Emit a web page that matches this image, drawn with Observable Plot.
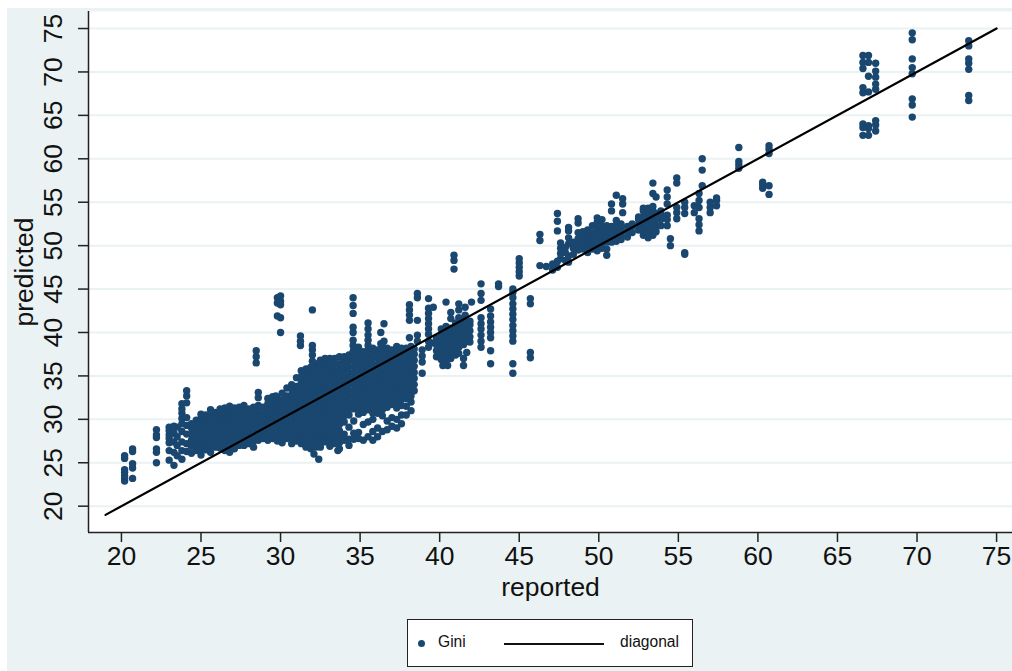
<!DOCTYPE html>
<html><head><meta charset="utf-8">
<script src="https://cdn.jsdelivr.net/npm/d3@7"></script>
<script src="https://cdn.jsdelivr.net/npm/@observablehq/plot@0.6"></script>
<style>
html,body{margin:0;padding:0;background:#fff;width:1012px;height:671px;overflow:hidden;font-family:"Liberation Sans",Arial,sans-serif;color:#111}
#bg{position:absolute;left:7px;top:8px;width:1005px;height:663px;background:#EAF2F3}
#chart{position:absolute;left:0;top:0}
#legend{position:absolute;left:407px;top:619px;width:284px;height:46px;background:#fff;border:1.5px solid #222}
#legend .dot{position:absolute;left:10px;top:20px;width:7px;height:7px;border-radius:50%;background:#1a476f}
#legend .ln{position:absolute;left:96px;top:23px;width:100px;height:2px;background:#111}
#legend .t{position:absolute;top:13px;font-size:15.6px;line-height:18px}
</style></head><body>
<div id="bg"></div><div id="chart"></div>
<div id="legend"><span class="dot"></span><span class="t" style="left:30px">Gini</span><span class="ln"></span><span class="t" style="left:212px">diagonal</span></div>
<script>
const xTicks=[20,25,30,35,40,45,50,55,60,65,70,75];
const yTicks=[20,25,30,35,40,45,50,55,60,65,70,75];
const diagonal=[19,75];

// lower tail
const lowReported=[20.2,20.7,22.2,23,23.3,23.5,23.8,24.1];
const lowPredicted=[[22.9,23.2,23.5,23.9,24.2,25.5,25.8],[23.2,24.4,24.9,26.3,26.6],[25,26.2,26.6,27.9,28.2,28.8],[25.3,26.4,27.3,27.8,28.2,28.7,29.1],[24.7,26.2,27.4,28.4,29.2],[25.8,27,28,29.1],[25.4,26.4,27.4,28.6,29.5,30.1,30.7,31.2,31.8],[26.3,27.2,28.3,29.3,30.2,31.9,32.7,33.3]];

// dense cloud, columns of reported values
const cloudReported=[24.4,24.7,25,25.3,25.6,25.9,26.2,26.5,26.8,27.1,27.4,27.7,28,28.3,28.6,28.9,29.2,29.5,29.8,30.1,30.4,30.7,31,31.3,31.6,31.9,32.2,32.5,32.8,33.1,33.4,33.7,34,34.3,34.6,34.9,35.2,35.5,35.8,36.1,36.4,36.7,37,37.3,37.6,37.9,38.2,38.4];
const cloudPredicted=[
[26.1,26.9,27.6,28.3,29,29.5],
[26.4,27.1,27.8,28.5,29.2,29.9],
[25.9,26.6,27.3,28,28.7,29.4,30.1,30.6],
[26.5,27.2,27.9,28.6,29.3,30,30.5],
[26.2,26.9,27.6,28.3,29,29.7,30.4,31.1],
[26.8,27.5,28.2,28.9,29.6,30.3,30.8],
[26.7,27.2,27.9,28.6,29.3,30,30.7,31.2],
[26.4,27.1,27.8,28.5,29.2,29.9,30.6,31.3],
[26.2,26.9,27.6,28.3,29,29.7,30.4,31.1,31.5],
[26.6,27.3,28,28.7,29.4,30.1,30.8,31.3],
[27,27.7,28.4,29.1,29.8,30.5,31.1,31.4],
[27,27.4,28.1,28.8,29.5,30.2,30.9,31.6],
[27.2,27.9,28.6,29.3,30,30.7,31.2],
[26.8,27.5,28.2,28.9,29.6,30.3,31,31.4],
[27.6,28.3,29,29.7,30.4,31.1,31.6,32.5,33.1],
[27.8,28.5,29.2,29.9,30.6,31.4],
[27.6,28.3,29,29.7,30.4,31.1,31.8,32.4],
[27.8,28.5,29.2,29.9,30.6,31.3,32,32.6],
[27.5,28.2,28.9,29.6,30.3,31,31.7,32.4],
[27.3,28,28.7,29.4,30.1,30.8,31.5,32.2,33],
[27.8,28.5,29.2,29.9,30.6,31.3,32,32.7,33.6],
[27.2,27.9,28.6,29.3,30,30.7,31.4,32.1,32.8,33.5,34],
[27.5,28.2,28.9,29.6,30.3,31,31.7,32.4,33.1,33.8,34.8],
[27.2,27.9,28.6,29.3,30,30.7,31.4,32.1,32.8,33.5,34.2,34.9,35.6],
[26.8,27.5,28.2,28.9,29.6,30.3,31,31.7,32.4,33.1,33.8,34.5,35.2,35.8],
[26.6,27.3,28,28.7,29.4,30.1,30.8,31.5,32.2,32.9,33.6,34.3,35,35.7,36],
[26.8,27.5,28.2,28.9,29.6,30.3,31,31.7,32.4,33.1,33.8,34.5,35.2,35.9,36.4],
[26.8,27.2,27.9,28.6,29.3,30,30.7,31.4,32.1,32.8,33.5,34.2,34.9,35.6,36.3,36.8],
[27.4,28.1,28.8,29.5,30.2,30.9,31.6,32.3,33,33.7,34.4,35.1,35.8,36.5,37],
[26.9,27.6,28.3,29,29.7,30.4,31.1,31.8,32.5,33.2,33.9,34.6,35.3,36,36.7,37],
[27.2,27.9,28.6,29.3,30,30.7,31.4,32.1,32.8,33.5,34.2,34.9,35.6,36.3,37],
[26.6,27.3,28,28.7,29.4,30.1,30.8,31.5,32.2,32.9,33.6,34.3,35,35.7,36.4,37.2],
[27.6,28.3,29.7,30.4,31.1,31.8,32.5,33.2,33.9,34.6,35.3,36,36.7,37.2],
[27,27.7,29.1,30.5,31.2,31.9,32.6,33.3,34,34.7,35.4,36.1,36.8,37.4],
[27.7,28.4,29.8,31.2,31.9,32.6,33.3,34,34.7,35.4,36.1,36.8,37.5,38],
[27.8,28.5,30.6,31.3,32,32.7,33.4,34.1,34.8,35.5,36.2,36.9,37.6,38.3],
[27.6,29.4,30.8,31.5,32.2,32.9,33.6,34.3,35,35.7,36.4,37.1,37.8],
[28,29.7,31.1,31.8,32.5,33.2,33.9,34.6,35.3,36,36.7,37.4,38],
[27.6,28.6,30,30.7,31.4,32.1,32.8,33.5,34.2,34.9,35.6,36.3,37,37.7,38.2],
[28,29,30.7,31.4,32.1,32.8,33.5,34.2,34.9,35.6,36.3,37,37.7,38],
[28.6,30.4,31.1,31.8,32.5,33.2,33.9,34.6,35.3,36,36.7,37.4,38.1,38.4],
[28.8,29.8,31.4,32.1,32.8,33.5,34.2,34.9,35.6,36.3,37,37.7,38.2],
[29.2,30.2,31.7,32.4,33.1,33.8,34.5,35.2,35.9,36.6,37.3,38],
[29,30,31.3,32,32.7,33.4,34.1,34.8,35.5,36.2,36.9,37.6,38.4],
[29.5,30.5,31.6,32.3,33,33.7,34.4,35.1,35.8,36.5,37.2,37.9,38.2],
[30.5,31.5,32.4,33.1,33.8,34.5,35.2,35.9,36.6,37.3,38,38.2],
[31,32,32.7,33.4,34.1,34.8,35.5,36.2,36.9,37.6,38.4],
[33.3,34,34.7,35.4,36.1,36.8,37.5,38.1]];

// points standing apart from the cloud
const outlierReported=[28.47,29.7,29.8,30,31.25,32,32.1,32.4,33.6,34.56,35.5,36.3,36.5,38.1,38.6,38.9];
const outlierPredicted=[[36.5,37.2,37.9],[32.7],[43.4,44,41.9],[40,41.7,43.2,43.6,44.2],[38.5,39,39.6],[36,36.7,37.4,38,38.5,42.6],[26],[25.4],[26.4],[37.1,37.8,38.5,39.1,40,40.6,42.2,43.1,44],[38.5,39.1,39.7,40.4,41.1],[38.7,40],[39,41],[39.4,41.4,42,42.6,43.2],[39,39.7,41.4,44,44.5],[35.3,36.6,37.3,38]];

// cluster around 40
const midReported=[39.3,39.6,39.8,40.1,40.2,40.4,40.5,40.7,41,41.2,41.5,41.6,41.7,41.9,42,42.6,43.2,43.7,44.6,45,45.7];
const midPredicted=[[38.3,39,39.8,40.4,41,41.6,42.2,42.8,43.9],[42.9,38.8],[37.2,37.9,38.6,39.3],[36.9,37.6,38.3,39,39.7,40.4],[36.2],[36.8,37.4,38,38.7,39.4,40.1,40.7,43.5],[36.2],[37,37.7,38.4,39.1,39.8,40.5,41.6,42.3],[37.4,38.1,38.8,39.5,40.2,40.9,41.1],[37.6,38.3,39,39.7,40.4,41.1,41.7,42.6,43.3],[36.2,37,38.6,39.3,40,40.7,41.4],[38.9,39.6,40.3,41,42,42.9],[37.7],[38.9,39.5,40.2,40.9,41.3],[43.5],[38.3,39,39.7,40.4,41,41.7,43.7,44.5,45.6],[36.4,37.9,39.4,40,40.6,41.2,41.9,42.7],[45.3,45.6],[35.3,36.4,39,39.6,40.2,40.8,41.5,42.1,42.7,43.3,44,44.6,45],[46.5,47,47.5,48,48.5],[37.1,37.7,43.3,43.9]];

// upper band
const bandReported=[40.9,46.3,46.7,47.1,47.4,47.6,47.9,48.1,48.4,48.7,49,49.3,49.6,49.9,50.2,50.5,50.8,51.1,51.4,51.5,51.8,52.1,52.5,52.8,53.1,53.4,53.6,53.9,54.3,54.5,54.9,55.4,56,56.3,56.5,57,57.4,58.8,60.3,60.7];
const bandPredicted=[[47.3,48.3,48.9],[47.7,50.6,51.3],[47.6],[47.2,47.9],[47.5,48.2,51.7,52.8,53.7],[48.5,49.1,49.7,50.3],[48.3,49.2,49.8],[48.1,48.8,50.2,50.9,51.7,52.1],[49,49.7,50.4],[49.5,50.1,50.8,51.5,52.6,53.1],[49.6,50.3,50.9,51.6],[49.2,49.9,50.5,51.2,51.8],[49.6,50.2,50.9,51.5,52.3],[49.4,50.1,50.7,51.4,52,52.7,53.2],[49.7,50.3,51,51.6,52.3,53],[48.9,49.6,50.4,51,51.7,52.3],[50.4,51,51.6,52.2,54,54.8],[50.5,51.1,51.7,52.3,52.9,55.8],[50.7,51.3,51.9,52.5],[53.8,54.8,55.4],[51,51.6,52.2],[51.5,52.2,52.5],[51.8,52.4,53,53.3],[51.2,51.9,52.6,53.3,54,54.3],[50.9,51.6,52.3,53,53.7,54.3],[51.2,51.9,52.6,53.3,54,54.5,56,57.2],[51.6,52.3,53,53.7,55.6],[52.3,53,53.5,54],[52.3,53,53.5,54.8,55.6,56.4],[50,50.8],[53.1,53.8,54.4,57.2,57.8],[49,49.2,53.7,54.4,55],[53.8,54.6],[51.7,52.4,53.1,54.4,55.2,56],[56.9,58.7,60],[53.8,54.4,55],[54.6,55.2,55.5],[58.9,59.3,59.7,61.3],[56.6,57,57.3],[55.9,56.9,60.6,61.1,61.5]];

// far right
const topReported=[66.6,66.95,67.4,69.7,73.25];
const topPredicted=[[62.7,63.6,64,67.6,68.2,70.4,71.1,71.9],[62.7,63.5,63.8,67.7,69.5,71.1,71.9],[63.2,63.9,64.4,68,68.6,69.4,70.1,71],[64.8,66.2,66.9,69.8,70.5,71.5,73.7,74.5],[66.7,67.3,70.3,71,71.5,73,73.6]];

const toRows=(xs,ys)=>xs.flatMap((x,i)=>ys[i].map(y=>({reported:x,predicted:y})));
const gini=[...toRows(lowReported,lowPredicted),...toRows(cloudReported,cloudPredicted),...toRows(outlierReported,outlierPredicted),...toRows(midReported,midPredicted),...toRows(bandReported,bandPredicted),...toRows(topReported,topPredicted)];

const xMin=17.93,xMax=76,yMin=16.97,yMax=76.96;
const plot=Plot.plot({
  width:1012,height:590,marginTop:11,marginBottom:58,marginLeft:88,marginRight:0,
  style:{background:"transparent",fontFamily:'"Liberation Sans",Arial,sans-serif',color:"#111",overflow:"visible"},
  x:{domain:[xMin,xMax]},y:{domain:[yMin,yMax]},
  marks:[
    Plot.frame({fill:"#fff",stroke:null}),
    Plot.ruleY(yTicks,{stroke:"#EAF2F3",strokeWidth:2}),
    Plot.dot(gini,{x:"reported",y:"predicted",r:3.7,fill:"#1a476f",stroke:null}),
    Plot.line(diagonal,{x:d=>d,y:d=>d,stroke:"#000",strokeWidth:2.2}),
    Plot.ruleX([xMin],{stroke:"#222",strokeWidth:1.5}),
    Plot.ruleY([yMin],{stroke:"#222",strokeWidth:1.5}),
    Plot.axisX({ticks:xTicks,tickSize:10,tickPadding:4,fontSize:26.5,strokeWidth:1.5,stroke:"#222",label:"reported",labelAnchor:"center",labelArrow:"none",labelOffset:63}),
    Plot.axisY({ticks:yTicks,tickSize:10,tickPadding:17,fontSize:26.5,strokeWidth:1.5,stroke:"#222",tickRotate:-90,textAnchor:"middle",label:"predicted",labelAnchor:"center",labelArrow:"none",labelOffset:74})
  ]
});
document.getElementById("chart").appendChild(plot);
</script></body></html>
